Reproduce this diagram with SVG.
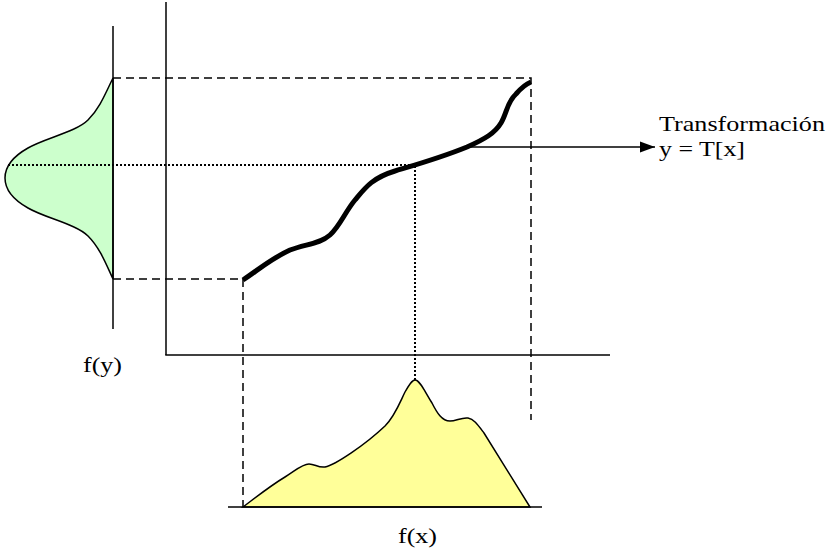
<svg xmlns="http://www.w3.org/2000/svg" width="830" height="550" viewBox="0 0 830 550">
<style>
.ax{stroke:#000;stroke-width:1.5;fill:none}
.dash{stroke:#000;stroke-width:1.5;fill:none;stroke-dasharray:8,5}
.dot{stroke:#000;stroke-width:2;fill:none;stroke-dasharray:2,2}
.lbl{font-family:"Liberation Serif","Times New Roman",serif;font-size:22px;fill:#000}
</style>
<defs>
<marker id="arr" markerWidth="16" markerHeight="12" refX="15" refY="6" orient="auto" markerUnits="userSpaceOnUse">
<path d="M0,0.5 L15,6 L0,11.5 Z" fill="#000"/>
</marker>
</defs>
<rect width="830" height="550" fill="#fff"/>
<g id="fy-density">
<path d="M113,78 C106,92 100,108 88,120 C76,132 45,138 28,148 C12,157 5,168 5,178 C5,188 12,199 28,208 C45,218 76,224 88,236 C100,248 106,264 113,279 Z" fill="#ccffcc" stroke="#000" stroke-width="1.5"/>
</g>
<g id="fx-density">
<path d="M243,507 C255,498 270,486 285,477 C295,471 302,464 309,464 C315,464 318,468 325,467 C335,465 365,445 385,426 C395,416 400,402 405,392 C409,385 412,380 415,380 C420,380 425,392 432,403 C437,413 442,421 450,421 C456,421 462,417 468,418 C474,419 478,425 484,433 L530,507 Z" fill="#ffff99" stroke="#000" stroke-width="1.5"/>
</g>
<g id="axes">
<line class="ax" x1="113" y1="26" x2="113" y2="329"/>
<line class="ax" x1="166" y1="2" x2="166" y2="355"/>
<line class="ax" x1="165.25" y1="355" x2="610" y2="355"/>
<line class="ax" x1="228" y1="507" x2="542" y2="507"/>
</g>
<g id="connectors">
<polyline class="dash" points="113,78 531,78 531,420"/>
<polyline class="dash" points="113,279 243,279 243,507"/>
<polyline class="dot" points="8,165 415,165 415,380"/>
<line class="ax" x1="467" y1="147" x2="655" y2="147" marker-end="url(#arr)"/>
</g>
<g id="transform-curve">
<path d="M243,280 C258,270 272,258 290,250 C305,244 320,244 330,235 C340,226 345,212 355,200 C365,188 372,178 395,171 C415,165 440,158 467,147 C485,139 495,133 501,123 C507,113 507,102 516,94 C522,87 526,84 531,82" fill="none" stroke="#000" stroke-width="5" stroke-linecap="butt"/>
</g>
<g id="labels">
<text class="lbl" x="659" y="131" textLength="166" lengthAdjust="spacingAndGlyphs">Transformación</text>
<text class="lbl" x="659" y="156" textLength="86" lengthAdjust="spacingAndGlyphs">y = T[x]</text>
<text class="lbl" x="83" y="372" textLength="39" lengthAdjust="spacingAndGlyphs">f(y)</text>
<text class="lbl" x="398" y="543" textLength="39" lengthAdjust="spacingAndGlyphs">f(x)</text>
</g>
</svg>
